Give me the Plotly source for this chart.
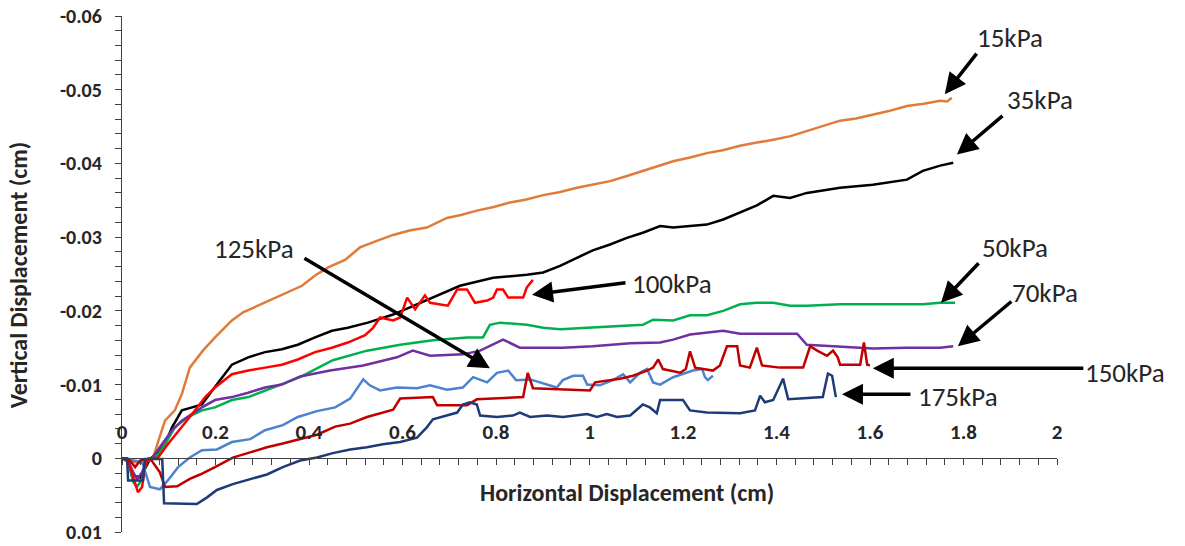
import plotly.graph_objects as go

# ---------------- data (cm) ----------------
x_15 = [0, 0.028, 0.049, 0.066, 0.077, 0.092, 0.113, 0.128, 0.145, 0.173, 0.199, 0.235, 0.259, 0.291, 0.321,
        0.355, 0.385, 0.413, 0.441, 0.477, 0.509, 0.545, 0.580, 0.615, 0.652, 0.695, 0.725, 0.759, 0.795, 0.830,
        0.865, 0.901, 0.935, 0.973, 1.010, 1.044, 1.080, 1.114, 1.145, 1.179, 1.215, 1.251, 1.285, 1.322, 1.355,
        1.393, 1.430, 1.465, 1.500, 1.536, 1.570, 1.606, 1.640, 1.679, 1.715, 1.750, 1.765, 1.775]
y_15 = [0, 0.0005, 0.0007, 0.0001, -0.0022, -0.0051, -0.0065, -0.0087, -0.0123, -0.0146, -0.0164, -0.0187,
        -0.0198, -0.0207, -0.0215, -0.0225, -0.0234, -0.0248, -0.0259, -0.0269, -0.0286, -0.0295, -0.0303,
        -0.0309, -0.0313, -0.0326, -0.0330, -0.0336, -0.0341, -0.0347, -0.0351, -0.0357, -0.0361, -0.0367,
        -0.0372, -0.0376, -0.0383, -0.0390, -0.0396, -0.0403, -0.0408, -0.0414, -0.0418, -0.0424, -0.0428,
        -0.0432, -0.0437, -0.0444, -0.0450, -0.0458, -0.0461, -0.0466, -0.0471, -0.0478, -0.0481, -0.0485,
        -0.0484, -0.0489]

x_35 = [0, 0.013, 0.021, 0.039, 0.051, 0.060, 0.071, 0.092, 0.107, 0.128, 0.150, 0.171, 0.193, 0.214, 0.235,
        0.270, 0.306, 0.342, 0.376, 0.413, 0.449, 0.483, 0.526, 0.580, 0.652, 0.723, 0.794, 0.866, 0.901,
        0.937, 0.973, 1.007, 1.044, 1.080, 1.114, 1.151, 1.179, 1.251, 1.286, 1.322, 1.358, 1.393, 1.429,
        1.465, 1.536, 1.606, 1.679, 1.713, 1.750, 1.778]
y_35 = [0, 0.0001, 0.0023, 0.0026, 0.0012, 0.0001, -0.0005, -0.0019, -0.0042, -0.0065, -0.0069, -0.0073,
        -0.0092, -0.0110, -0.0127, -0.0137, -0.0144, -0.0148, -0.0154, -0.0164, -0.0173, -0.0177, -0.0184,
        -0.0195, -0.0215, -0.0234, -0.0245, -0.0249, -0.0252, -0.0261, -0.0272, -0.0282, -0.0290, -0.0299,
        -0.0306, -0.0315, -0.0313, -0.0317, -0.0324, -0.0333, -0.0343, -0.0356, -0.0353, -0.0360, -0.0367,
        -0.0371, -0.0378, -0.0390, -0.0397, -0.0401]

x_50 = [0, 0.013, 0.024, 0.032, 0.043, 0.053, 0.064, 0.077, 0.092, 0.113, 0.141, 0.171, 0.199, 0.235, 0.270,
        0.306, 0.342, 0.381, 0.451, 0.524, 0.595, 0.665, 0.738, 0.772, 0.787, 0.809, 0.866, 0.901, 0.937,
        1.007, 1.080, 1.114, 1.136, 1.179, 1.215, 1.251, 1.286, 1.322, 1.358, 1.393, 1.429, 1.465, 1.536,
        1.606, 1.679, 1.713, 1.750, 1.782]
y_50 = [0, 0.0005, 0.0032, 0.0039, 0.0028, 0.0005, 0.0001, -0.0005, -0.0019, -0.0042, -0.0056, -0.0065,
        -0.0069, -0.0079, -0.0083, -0.0092, -0.0100, -0.0110, -0.0133, -0.0146, -0.0154, -0.0160, -0.0164,
        -0.0164, -0.0181, -0.0184, -0.0181, -0.0177, -0.0175, -0.0177, -0.0180, -0.0181, -0.0188, -0.0187,
        -0.0194, -0.0194, -0.0200, -0.0209, -0.0211, -0.0211, -0.0207, -0.0207, -0.0209, -0.0209, -0.0209,
        -0.0209, -0.0211, -0.0211]

x_70 = [0, 0.013, 0.024, 0.032, 0.043, 0.053, 0.064, 0.077, 0.107, 0.128, 0.171, 0.199, 0.235, 0.270, 0.306,
        0.342, 0.381, 0.445, 0.516, 0.588, 0.622, 0.659, 0.729, 0.766, 0.787, 0.815, 0.851, 0.943, 1.007,
        1.087, 1.151, 1.179, 1.215, 1.251, 1.286, 1.322, 1.393, 1.444, 1.465, 1.499, 1.536, 1.606, 1.679,
        1.750, 1.778]
y_70 = [0, 0.0003, 0.0019, 0.0028, 0.0019, 0.0003, 0, -0.0012, -0.0038, -0.0051, -0.0069, -0.0079, -0.0083,
        -0.0089, -0.0096, -0.0100, -0.0111, -0.0119, -0.0126, -0.0137, -0.0146, -0.0139, -0.0141, -0.0146,
        -0.0152, -0.0161, -0.0150, -0.0150, -0.0152, -0.0156, -0.0157, -0.0161, -0.0168, -0.0171, -0.0173,
        -0.0169, -0.0169, -0.0169, -0.0154, -0.0153, -0.0152, -0.0149, -0.0150, -0.0150, -0.0152]

x_100 = [0, 0.013, 0.024, 0.034, 0.043, 0.049, 0.056, 0.077, 0.098, 0.128, 0.150, 0.178, 0.199, 0.235, 0.270,
         0.306, 0.342, 0.376, 0.413, 0.449, 0.483, 0.520, 0.537, 0.552, 0.580, 0.595, 0.610, 0.627, 0.648,
         0.659, 0.697, 0.717, 0.738, 0.755, 0.781, 0.794, 0.802, 0.815, 0.826, 0.858, 0.866, 0.879]
y_100 = [0, 0.0003, 0.0026, 0.0046, 0.0039, 0.0012, 0.0001, -0.0001, -0.0019, -0.0042, -0.0060, -0.0083,
         -0.0096, -0.0114, -0.0119, -0.0123, -0.0127, -0.0134, -0.0144, -0.0150, -0.0157, -0.0167, -0.0177,
         -0.0191, -0.0187, -0.0191, -0.0218, -0.0202, -0.0221, -0.0211, -0.0207, -0.0229, -0.0229, -0.0211,
         -0.0214, -0.0218, -0.0229, -0.0229, -0.0218, -0.0218, -0.0232, -0.0242]

x_125 = [0, 0.024, 0.043, 0.060, 0.081, 0.098, 0.120, 0.145, 0.171, 0.203, 0.235, 0.274, 0.306, 0.344, 0.376,
         0.417, 0.456, 0.488, 0.516, 0.530, 0.552, 0.588, 0.631, 0.659, 0.695, 0.729, 0.751, 0.781, 0.802,
         0.826, 0.843, 0.873, 0.909, 0.930, 0.943, 0.965, 0.986, 0.995, 1.022, 1.050, 1.072, 1.087, 1.108,
         1.123, 1.136, 1.151, 1.179, 1.200, 1.221, 1.241, 1.247, 1.253, 1.264]
y_125 = [0, 0.0003, 0.0005, 0.0039, 0.0042, 0.0030, 0.0012, -0.0001, -0.0011, -0.0012, -0.0022, -0.0026,
         -0.0038, -0.0045, -0.0056, -0.0064, -0.0069, -0.0081, -0.0107, -0.0099, -0.0092, -0.0096, -0.0095,
         -0.0099, -0.0093, -0.0096, -0.0110, -0.0103, -0.0116, -0.0119, -0.0106, -0.0107, -0.0100, -0.0096,
         -0.0106, -0.0112, -0.0112, -0.0100, -0.0099, -0.0106, -0.0114, -0.0103, -0.0116, -0.0121, -0.0103,
         -0.0100, -0.0110, -0.0114, -0.0119, -0.0121, -0.0110, -0.0106, -0.0112]

x_150 = [0, 0.017, 0.028, 0.039, 0.060, 0.081, 0.092, 0.118, 0.145, 0.167, 0.199, 0.237, 0.274, 0.310, 0.344,
         0.381, 0.417, 0.456, 0.488, 0.524, 0.558, 0.580, 0.595, 0.665, 0.674, 0.738, 0.759, 0.858, 0.868,
         0.879, 1.001, 1.012, 1.065, 1.093, 1.123, 1.136, 1.147, 1.157, 1.194, 1.206, 1.215, 1.226, 1.264,
         1.279, 1.294, 1.316, 1.322, 1.343, 1.358, 1.369, 1.407, 1.457, 1.472, 1.487, 1.508, 1.521, 1.531,
         1.536, 1.579, 1.587, 1.594, 1.600]
y_150 = [0, 0.0003, 0.0012, 0.0003, 0, 0.0019, 0.0039, 0.0038, 0.0028, 0.0022, 0.0012, -0.0001, -0.0008,
         -0.0015, -0.0020, -0.0026, -0.0032, -0.0043, -0.0047, -0.0056, -0.0062, -0.0066, -0.0081, -0.0083,
         -0.0072, -0.0072, -0.0080, -0.0083, -0.0116, -0.0095, -0.0092, -0.0103, -0.0108, -0.0112, -0.0119,
         -0.0123, -0.0134, -0.0121, -0.0116, -0.0121, -0.0145, -0.0123, -0.0119, -0.0126, -0.0152, -0.0152,
         -0.0126, -0.0123, -0.0150, -0.0126, -0.0123, -0.0123, -0.0152, -0.0146, -0.0139, -0.0146, -0.0137,
         -0.0127, -0.0127, -0.0157, -0.0127, -0.0126]

x_175 = [0, 0.011, 0.013, 0.045, 0.049, 0.077, 0.086, 0.090, 0.160, 0.182, 0.203, 0.237, 0.274, 0.310, 0.344,
         0.381, 0.417, 0.451, 0.488, 0.524, 0.558, 0.595, 0.631, 0.652, 0.665, 0.695, 0.717, 0.729, 0.744,
         0.759, 0.766, 0.802, 0.836, 0.851, 0.873, 0.909, 0.943, 0.995, 1.016, 1.037, 1.059, 1.087, 1.114,
         1.129, 1.144, 1.151, 1.200, 1.215, 1.251, 1.322, 1.354, 1.365, 1.375, 1.393, 1.405, 1.414, 1.425,
         1.499, 1.510, 1.519, 1.527]
y_175 = [0, 0, 0.0030, 0.0030, 0.0001, 0.0001, 0.0001, 0.0061, 0.0062, 0.0053, 0.0043, 0.0035, 0.0028,
         0.0022, 0.0012, 0.0003, -0.0001, -0.0007, -0.0012, -0.0015, -0.0019, -0.0022, -0.0028, -0.0042,
         -0.0053, -0.0058, -0.0062, -0.0073, -0.0076, -0.0073, -0.0058, -0.0056, -0.0058, -0.0062, -0.0056,
         -0.0058, -0.0056, -0.0060, -0.0056, -0.0060, -0.0056, -0.0058, -0.0073, -0.0069, -0.0061, -0.0079,
         -0.0079, -0.0065, -0.0062, -0.0061, -0.0065, -0.0085, -0.0076, -0.0079, -0.0096, -0.0108, -0.0080,
         -0.0083, -0.0115, -0.0112, -0.0083]

series = [
    ("15kPa", x_15, y_15, "#E07B39"),
    ("35kPa", x_35, y_35, "#000000"),
    ("50kPa", x_50, y_50, "#00B050"),
    ("70kPa", x_70, y_70, "#7030A0"),
    ("100kPa", x_100, y_100, "#FF0000"),
    ("125kPa", x_125, y_125, "#4C82D0"),
    ("150kPa", x_150, y_150, "#C00000"),
    ("175kPa", x_175, y_175, "#1F3A78"),
]

x_tick_vals = [0, 0.2, 0.4, 0.6, 0.8, 1, 1.2, 1.4, 1.6, 1.8, 2]
x_tick_text = ["0", "0.2", "0.4", "0.6", "0.8", "1", "1.2", "1.4", "1.6", "1.8", "2"]
y_tick_vals = [-0.06, -0.05, -0.04, -0.03, -0.02, -0.01, 0, 0.01]
y_tick_text = ["-0.06", "-0.05", "-0.04", "-0.03", "-0.02", "-0.01", "0", "0.01"]

# label text, arrow head (data), arrow tail offset (px), text position (paper)
labels = [
    ("15kPa", 1.760, -0.0494, 33, -42, 0.950, 0.959),
    ("35kPa", 1.786, -0.0412, 47, -40, 0.982, 0.839),
    ("50kPa", 1.752, -0.0211, 39, -41, 0.955, 0.552),
    ("70kPa", 1.788, -0.0152, 55, -46, 0.987, 0.465),
    ("150kPa", 1.606, -0.0122, 212, 0, 1.073, 0.310),
    ("175kPa", 1.540, -0.0087, 70, 0, 0.894, 0.262),
    ("100kPa", 0.877, -0.0222, 95, -12, 0.588, 0.481),
    ("125kPa", 0.787, -0.0122, -187, -111, 0.141, 0.550),
]

FONT = "Carlito, Lato, 'Open Sans', sans-serif"
AX = "#404040"
TXT = "#262626"

fig = go.Figure()
for name, xs, ys, col in series:
    fig.add_trace(go.Scatter(x=xs, y=ys, mode="lines", name=name,
                             line=dict(color=col, width=2.5), showlegend=False))
# invisible trace to activate the label axis
fig.add_trace(go.Scatter(x=[0, 2], y=[0, 0], xaxis="x2", mode="lines",
                         line=dict(width=0), hoverinfo="skip", showlegend=False, opacity=0))

annotations = []
for text, hx, hy, axp, ayp, tx, ty in labels:
    annotations.append(dict(x=hx, y=hy, xref="x", yref="y", ax=axp, ay=ayp, text="",
                            showarrow=True, arrowhead=2, arrowsize=1.2, arrowwidth=3.5,
                            arrowcolor="#000000", standoff=0))
    annotations.append(dict(x=tx, y=ty, xref="paper", yref="paper", text=text, showarrow=False,
                            xanchor="center", yanchor="middle",
                            font=dict(family=FONT, size=27, color=TXT)))

annotations.append(dict(x=-0.111, y=0.498, xref="paper", yref="paper", text="<b>Vertical Displacement (cm)</b>",
                        textangle=-90, showarrow=False, xanchor="center", yanchor="middle",
                        font=dict(family=FONT, size=24, color=TXT)))
annotations.append(dict(x=0.540, y=0.076, xref="paper", yref="paper", text="<b>Horizontal Displacement (cm)</b>",
                        showarrow=False, xanchor="center", yanchor="middle",
                        font=dict(family=FONT, size=24, color=TXT)))

fig.update_layout(
    width=1185, height=546,
    margin=dict(l=122, r=128, t=16, b=14, autoexpand=False),
    plot_bgcolor="white", paper_bgcolor="white",
    annotations=annotations,
    xaxis=dict(range=[0, 2], anchor="free", position=1/7, side="bottom", automargin=False,
               showline=True, linecolor=AX, linewidth=1.3,
               showgrid=False, zeroline=False, showticklabels=False,
               ticks="outside", ticklen=6, tickcolor=AX, tickwidth=1.3,
               tickvals=x_tick_vals,
               minor=dict(ticks="outside", ticklen=6, dtick=0.04, tickcolor=AX, tickwidth=1.3)),
    xaxis2=dict(range=[0, 2], overlaying="x", anchor="free", position=1/7, side="top", automargin=False,
                showline=False, showgrid=False, zeroline=False, ticks="",
                tickvals=x_tick_vals, ticktext=x_tick_text, ticklabelstandoff=15,
                ticklabeloverflow="allow",
                tickfont=dict(family=FONT, size=21, color=TXT, weight="bold")),
    yaxis=dict(range=[0.01, -0.06], automargin=False, showline=True, linecolor=AX, linewidth=1.3,
               showgrid=False, zeroline=False,
               ticks="outside", ticklen=6, tickcolor=AX, tickwidth=1.3,
               tickvals=y_tick_vals, ticktext=y_tick_text, ticklabelstandoff=9,
               ticklabeloverflow="allow",
               minor=dict(ticks="outside", ticklen=6, dtick=0.002, tickcolor=AX, tickwidth=1.3),
               tickfont=dict(family=FONT, size=20, color=TXT, weight="bold")),
)

fig.write_html("out.html")
